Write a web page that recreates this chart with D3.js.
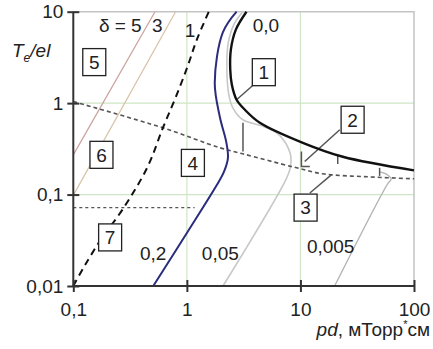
<!DOCTYPE html>
<html>
<head>
<meta charset="utf-8">
<script src="https://d3js.org/d3.v7.min.js"></script>
<style>
body { margin: 0; background: #fff; }
text { font-family: "Liberation Sans", Arial, sans-serif; }
</style>
</head>
<body>
<div id="chart"></div>
<script>
// ---- data (pd in mTorr*cm, Te/el) ----
var xTicks = [0.1, 1, 10, 100],
    xTickLabels = ["0,1", "1", "10", "100"];
var yTicks = [0.01, 0.1, 1, 10],
    yTickLabels = ["0,01", "0,1", "1", "10"];
var gridX = [1, 10],
    gridY = [0.1, 1];

var delta5 = [[0.1, 0.272], [0.524, 10]];
var delta3 = [[0.1, 0.098], [0.796, 10]];
var delta1 = [[0.1, 0.01], [0.127, 0.017], [0.18, 0.034], [0.27, 0.068], [0.45, 0.2],
              [0.615, 0.537], [0.8, 1.17], [1.02, 2.57], [1.22, 4.9], [1.56, 10]];
var curve02 = [[0.506, 0.01], [1.0, 0.038], [1.84, 0.128], [2.12, 0.177], [2.3, 0.252],
               [2.23, 0.368], [1.95, 0.71], [1.76, 1.67], [2.07, 5.9], [2.74, 10]];
var curve00 = [[3.35, 10], [2.7, 6.37], [2.44, 3.85], [2.41, 2.32], [2.49, 1.59], [2.74, 1.09],
               [3.24, 0.847], [4.39, 0.61], [10.5, 0.368], [23.6, 0.259], [100, 0.184]];
var curve005 = [[2.08, 0.01], [7.43, 0.145], [8.13, 0.196], [8.22, 0.265], [7.28, 0.378],
                [6.19, 0.474], [4.57, 0.565], [3.11, 0.658], [2.54, 0.89], [2.34, 1.24],
                [2.25, 2.32], [2.3, 4.36], [2.59, 7.22], [3.11, 10]];
var curve0005 = [[20, 0.01], [58.6, 0.131], [62.9, 0.147], [58.6, 0.164], [49.8, 0.177]];
var boundary = [[0.1, 1.04], [0.615, 0.537], [1.95, 0.325], [3.11, 0.279], [8.56, 0.201],
                [15.7, 0.169], [40.6, 0.156], [100, 0.149]];
var boundaryLow = [[0.1, 0.072], [1.17, 0.072]];

var markers = [[[3.12, 0.61], [3.12, 0.295]],
               [[10.2, 0.295], [10.2, 0.203], [12.1, 0.203]],
               [[21.3, 0.272], [21.3, 0.216]],
               [[49.8, 0.196], [49.8, 0.160]]];
var pointers = [[[3.78, 1.55], [2.74, 1.09]],
                [[22.2, 0.511], [10.9, 0.230]],
                [[12.1, 0.104], [18.7, 0.164]]];

var boxNames = ["1", "2", "3", "4", "5", "6", "7"],
    boxPos = [[4.76, 2.18], [28.8, 0.658], [11.1, 0.072], [1.13, 0.222],
              [0.153, 2.81], [0.177, 0.272], [0.211, 0.034]];

var curveLabels = ["δ = 5", "3", "1", "0,0", "0,2", "0,05", "0,005"],
    curveLabelPos = [[0.168, 6.05], [0.492, 6.05], [0.96, 5.33], [3.8, 6.05],
                     [0.386, 0.0193], [1.355, 0.0193], [11.4, 0.023]];

// ---- layout ----
var W = 433, H = 349;
var pLeft = 73.3, pRight = 414, pTop = 11.7, pBottom = 286;

var svg = d3.select("#chart")
            .append("svg")
            .attr("width", W)
            .attr("height", H);

svg.append("rect").attr("width", W).attr("height", H).attr("fill", "#fff");

var xScale = d3.scaleLog().domain([0.1, 100]).range([pLeft, pRight]),
    yScale = d3.scaleLog().domain([0.01, 10]).range([pBottom, pTop]);

var line = d3.line()
             .x(function(d){ return xScale(d[0]); })
             .y(function(d){ return yScale(d[1]); });
var smooth = d3.line()
               .x(function(d){ return xScale(d[0]); })
               .y(function(d){ return yScale(d[1]); })
               .curve(d3.curveCatmullRom.alpha(0.5));

// grid
svg.selectAll(".gx").data(gridX).enter().append("line")
   .attr("x1", function(d){ return xScale(d); }).attr("x2", function(d){ return xScale(d); })
   .attr("y1", pTop).attr("y2", pBottom)
   .attr("stroke", "#cfe6c6").attr("stroke-width", 1.2);
svg.selectAll(".gy").data(gridY).enter().append("line")
   .attr("y1", function(d){ return yScale(d); }).attr("y2", function(d){ return yScale(d); })
   .attr("x1", pLeft).attr("x2", pRight)
   .attr("stroke", "#cfe6c6").attr("stroke-width", 1.2);

// frame top / right
svg.append("path")
   .attr("d", "M" + pLeft + "," + pTop + "H" + pRight + "V" + pBottom)
   .attr("fill", "none").attr("stroke", "#c4c4c4").attr("stroke-width", 1.5);

var plot = svg.append("g").attr("id", "lines");

// delta lines (thin, brownish)
plot.append("path").datum(delta5).attr("d", line)
    .attr("fill", "none").attr("stroke", "#c9a19c").attr("stroke-width", 1.2);
plot.append("path").datum(delta3).attr("d", line)
    .attr("fill", "none").attr("stroke", "#d8c2a6").attr("stroke-width", 1.2);

// gray curves
plot.append("path").datum(curve005).attr("d", smooth)
    .attr("fill", "none").attr("stroke", "#c8c8c8").attr("stroke-width", 1.6);
plot.append("path").datum(curve0005).attr("d", smooth)
    .attr("fill", "none").attr("stroke", "#b4b4b4").attr("stroke-width", 1.3);

// boundary dotted lines
plot.append("path").datum(boundary).attr("d", smooth)
    .attr("fill", "none").attr("stroke", "#555").attr("stroke-width", 1.6)
    .attr("stroke-dasharray", "4,3");
plot.append("path").datum(boundaryLow).attr("d", line)
    .attr("fill", "none").attr("stroke", "#555").attr("stroke-width", 1.4)
    .attr("stroke-dasharray", "3,3");

// markers and pointers
markers.concat(pointers).forEach(function(m){
    plot.append("path").datum(m).attr("d", line)
        .attr("fill", "none").attr("stroke", "#555").attr("stroke-width", 1.5);
});

// delta = 1 dashed
plot.append("path").datum(delta1).attr("d", smooth)
    .attr("fill", "none").attr("stroke", "#111").attr("stroke-width", 2)
    .attr("stroke-dasharray", "7,5");

// blue 0,2 curve
plot.append("path").datum(curve02).attr("d", smooth)
    .attr("fill", "none").attr("stroke", "#2b2c7c").attr("stroke-width", 2);

// black 0,0 curve
plot.append("path").datum(curve00).attr("d", smooth)
    .attr("fill", "none").attr("stroke", "#111").attr("stroke-width", 2.4);

// axes
var xAxis = d3.axisBottom(xScale).tickValues(xTicks)
              .tickFormat(function(d, i){ return xTickLabels[i]; }).tickSize(6),
    yAxis = d3.axisLeft(yScale).tickValues(yTicks)
              .tickFormat(function(d, i){ return yTickLabels[i]; }).tickSize(6);

var gx = svg.append("g").attr("transform", "translate(0," + pBottom + ")").call(xAxis);
gx.select(".domain").attr("d", "M" + pLeft + ",0H" + pRight).attr("stroke", "#333").attr("stroke-width", 2);
gx.selectAll(".tick line").attr("y1", -6).attr("y2", 6).attr("stroke", "#333").attr("stroke-width", 2);
gx.selectAll(".tick text").attr("y", 17).attr("dy", "0.71em")
  .attr("font-size", "19px").attr("fill", "#222")
  .attr("font-family", "Liberation Sans, Arial, sans-serif");

var gy = svg.append("g").attr("transform", "translate(" + pLeft + ",0)").call(yAxis);
gy.select(".domain").attr("d", "M0," + pTop + "V" + pBottom).attr("stroke", "#333").attr("stroke-width", 2);
gy.selectAll(".tick line").attr("x1", 6).attr("x2", -6).attr("stroke", "#333").attr("stroke-width", 2);
gy.selectAll(".tick text").attr("x", -10)
  .attr("font-size", "19px").attr("fill", "#222")
  .attr("font-family", "Liberation Sans, Arial, sans-serif");

// axis titles
var yt = svg.append("text").attr("x", 12).attr("y", 57)
            .attr("font-size", "19px").attr("fill", "#222").attr("font-style", "italic");
yt.append("tspan").text("T");
yt.append("tspan").attr("font-size", "12px").attr("dy", 5).text("e");
yt.append("tspan").attr("dy", -5).text("/el");

var xt = svg.append("text").attr("x", 430).attr("y", 336)
            .attr("text-anchor", "end").attr("font-size", "19px").attr("fill", "#222");
xt.append("tspan").attr("font-style", "italic").text("pd");
xt.append("tspan").text(", мТорр");
xt.append("tspan").attr("font-size", "11px").attr("dy", -8).text("*");
xt.append("tspan").attr("dy", 8).text("см");

// curve labels
svg.selectAll(".clabel").data(curveLabels).enter().append("text")
   .attr("x", function(d, i){ return xScale(curveLabelPos[i][0]); })
   .attr("y", function(d, i){ return yScale(curveLabelPos[i][1]); })
   .attr("font-size", "19px").attr("fill", "#222")
   .text(function(d){ return d; });

// region boxes
var bw = 23, bh = 27;
var boxes = svg.selectAll(".box").data(boxNames).enter().append("g")
   .attr("transform", function(d, i){
       return "translate(" + xScale(boxPos[i][0]) + "," + yScale(boxPos[i][1]) + ")";
   });
boxes.append("rect").attr("x", -bw / 2).attr("y", -bh / 2).attr("width", bw).attr("height", bh)
     .attr("fill", "#fff").attr("stroke", "#222").attr("stroke-width", 1.3);
boxes.append("text").attr("text-anchor", "middle").attr("dy", "0.36em")
     .attr("font-size", "19px").attr("fill", "#222")
     .text(function(d){ return d; });
</script>
</body>
</html>
